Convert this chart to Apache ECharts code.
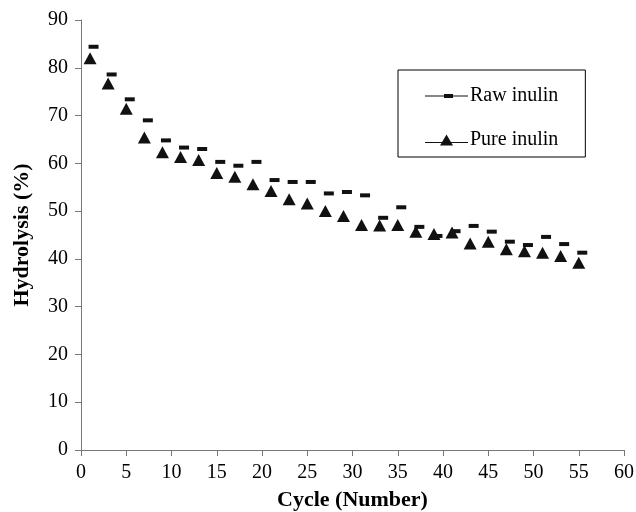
<!DOCTYPE html>
<html>
<head>
<meta charset="utf-8">
<script src="https://cdn.jsdelivr.net/npm/echarts@6/dist/echarts.min.js"></script>
<style>
	html, body { margin: 0; padding: 0; background: #fff; }
	#grafico { width: 636px; height: 512px; }
</style>
</head>
<body>
<div id="grafico"></div>
<script>
// Ciclos (ímpares de 1 a 55)
const ciclos = [1, 3, 5, 7, 9, 11, 13, 15, 17, 19, 21, 23, 25, 27, 29, 31, 33, 35, 37, 39, 41, 43, 45, 47, 49, 51, 53, 55];

// Hidrólise (%)
const rawInulin = [84.4, 78.6, 73.4, 69.0, 64.8, 63.3, 63.0, 60.3, 59.5, 60.3, 56.5, 56.1, 56.1, 53.7, 54.0, 53.3, 48.6, 50.8, 46.7, 44.8, 45.8, 46.9, 45.7, 43.6, 42.9, 44.6, 43.1, 41.3];
const pureInulin = [82.0, 76.7, 71.4, 65.4, 62.3, 61.3, 60.7, 58.0, 57.2, 55.6, 54.2, 52.5, 51.6, 50.0, 49.0, 47.1, 47.0, 47.1, 45.7, 45.2, 45.5, 43.2, 43.6, 42.0, 41.6, 41.3, 40.6, 39.2];

const fonte = 'Liberation Serif';

// Ícones da legenda: linha fina + marcador (traço ou triângulo)
const iconeRaw = 'path://M0,5.5H43V6.5H0Z M19,4H28V8H19Z';
const iconePure = 'path://M0,7.5H43V8.5H0Z M21.5,0L28,11L15,11Z';

const grafico = echarts.init(document.getElementById('grafico'));

const option = {
	animation: false,
	textStyle: { fontFamily: fonte, color: '#000' },
	grid: { left: 81, right: 12, top: 20, bottom: 62, outerBoundsMode: 'none' },
	legend: {
		orient: 'vertical',
		left: 398,
		top: 70,
		padding: [16, 27, 7, 27],
		itemGap: 24,
		itemWidth: 43,
		itemHeight: 12,
		symbolKeepAspect: true,
		borderColor: '#000',
		borderWidth: 1,
		textStyle: { fontFamily: fonte, fontSize: 20, color: '#000', padding: [0, 0, 0, -3] },
		itemStyle: { color: '#111' },
		data: [
			{ name: 'Raw inulin', icon: iconeRaw },
			{ name: 'Pure inulin', icon: iconePure }
		]
	},
	xAxis: {
		type: 'value',
		min: 0,
		max: 60,
		interval: 5,
		name: 'Cycle (Number)',
		nameLocation: 'middle',
		nameGap: 39,
		nameTextStyle: { fontFamily: fonte, fontSize: 22, fontWeight: 'bold', color: '#000' },
		axisLine: { lineStyle: { color: '#777', width: 1 } },
		axisTick: { show: true, length: 6, lineStyle: { color: '#777' } },
		axisLabel: { fontFamily: fonte, fontSize: 20, color: '#000', margin: 13 },
		splitLine: { show: false }
	},
	yAxis: {
		type: 'value',
		min: 0,
		max: 90,
		interval: 10,
		name: 'Hydrolysis (%)',
		nameLocation: 'middle',
		nameGap: 48,
		nameTextStyle: { fontFamily: fonte, fontSize: 22, fontWeight: 'bold', color: '#000' },
		axisLine: { show: true, lineStyle: { color: '#777', width: 1 } },
		axisTick: { show: true, length: 6, lineStyle: { color: '#777' } },
		axisLabel: { fontFamily: fonte, fontSize: 20, color: '#000', margin: 13 },
		splitLine: { show: false }
	},
	series: [
		{
			name: 'Raw inulin',
			type: 'line',
			data: ciclos.map((c, i) => [c, rawInulin[i]]),
			symbol: 'rect',
			symbolSize: [10, 4],
			symbolOffset: [3.5, 0],
			showSymbol: true,
			lineStyle: { opacity: 0 },
			itemStyle: { color: '#111' }
		},
		{
			name: 'Pure inulin',
			type: 'line',
			data: ciclos.map((c, i) => [c, pureInulin[i]]),
			symbol: 'triangle',
			symbolSize: [13, 12],
			showSymbol: true,
			lineStyle: { opacity: 0 },
			itemStyle: { color: '#111' }
		}
	]
};

grafico.setOption(option);
</script>
</body>
</html>
